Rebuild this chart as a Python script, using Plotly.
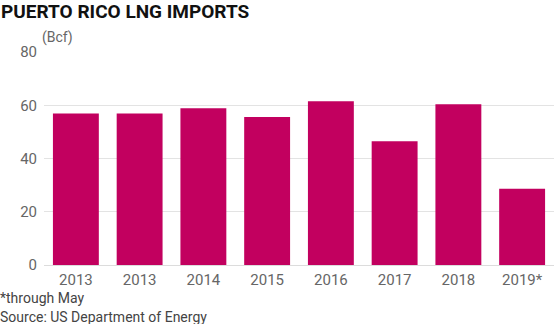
import plotly.graph_objects as go

years = ["2013", "2013", "2014", "2015", "2016", "2017", "2018", "2019*"]
imports_bcf = [56.9, 56.9, 58.9, 55.6, 61.5, 46.5, 60.4, 28.6]
y_ticks = [0, 20, 40, 60, 80]

positions = list(range(len(years)))

fig = go.Figure(go.Bar(
    x=positions, y=imports_bcf,
    marker=dict(color="#c2005f", line=dict(width=0)),
    hoverinfo="skip",
))

font_main = "Roboto, 'Liberation Sans', sans-serif"
fig.update_layout(
    width=560, height=324,
    margin=dict(l=44, r=6, t=52, b=59),
    paper_bgcolor="white", plot_bgcolor="white",
    bargap=0.28,
    showlegend=False,
    font=dict(family=font_main, size=14, color="#666666"),
    xaxis=dict(
        tickmode="array", tickvals=positions, ticktext=years,
        range=[-0.5, len(years) - 0.5],
        showgrid=False, zeroline=False, showline=False,
        ticks="", ticklabelstandoff=4,
        tickfont=dict(size=15, color="#666666"),
    ),
    yaxis=dict(
        range=[0, 80], tickvals=y_ticks,
        showgrid=True, gridcolor="#e3e3e3", gridwidth=1,
        zeroline=True, zerolinecolor="#dcdcdc", zerolinewidth=1,
        showline=False, ticks="", ticklen=0, ticklabelstandoff=6,
        tickfont=dict(size=15, color="#666666"),
    ),
    annotations=[
        dict(text="<b>PUERTO RICO LNG IMPORTS</b>", x=0, y=1, xref="paper", yref="paper",
             xanchor="left", yanchor="top", showarrow=False,
             font=dict(family="'Roboto', sans-serif", size=19, color="#111111"),
             xshift=-45, yshift=52 + 2),
        dict(text="(Bcf)", x=0, y=1, xref="paper", yref="paper",
             xanchor="left", yanchor="bottom", showarrow=False,
             font=dict(size=14, color="#666666"), xshift=-4, yshift=4),
        dict(text="*through May", x=0, y=0, xref="paper", yref="paper",
             xanchor="left", yanchor="top", showarrow=False, align="left",
             font=dict(size=14, color="#444444"), xshift=-46, yshift=-23),
        dict(text="Source: US Department of Energy", x=0, y=0, xref="paper", yref="paper",
             xanchor="left", yanchor="top", showarrow=False, align="left",
             font=dict(size=14, color="#444444"), xshift=-46, yshift=-42),
    ],
)

fig.write_html("out.html")
